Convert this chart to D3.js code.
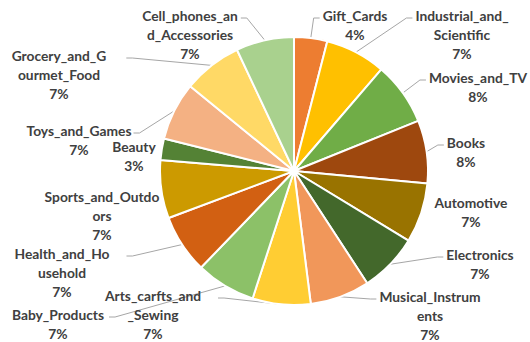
<!DOCTYPE html>
<html>
<head>
<meta charset="utf-8">
<script src="https://cdn.jsdelivr.net/npm/d3@7"></script>
<style>
  body { margin: 0; background: #fff; }
  text { font-family: Lato, "Open Sans", sans-serif; font-weight: bold; }
</style>
</head>
<body>
<div id="chart"></div>
<script>
"use strict";

// Categories, clockwise from 12 o'clock
const categories = ["Gift_Cards", "Industrial_and_Scientific", "Movies_and_TV", "Books", "Automotive",
	"Electronics", "Musical_Instruments", "Arts_carfts_and_Sewing", "Baby_Products", "Health_and_Household",
	"Sports_and_Outdoors", "Beauty", "Toys_and_Games", "Grocery_and_Gourmet_Food", "Cell_phones_and_Accessories"];

// share of each category (percent)
const values = [4.0, 7.3, 7.6, 7.6, 7.2, 7.1, 7.2, 7.0, 7.2, 7.1, 7.0, 2.6, 7.0, 7.1, 7.0];

// wrapped label text, as shown
const labelLines = [
	["Gift_Cards"], ["Industrial_and_", "Scientific"], ["Movies_and_TV"], ["Books"], ["Automotive"],
	["Electronics"], ["Musical_Instrum", "ents"], ["Arts_carfts_and", "_Sewing"], ["Baby_Products"], ["Health_and_Ho", "usehold"],
	["Sports_and_Outdo", "ors"], ["Beauty"], ["Toys_and_Games"], ["Grocery_and_G", "ourmet_Food"], ["Cell_phones_an", "d_Accessories"]];

const colors = ["#ED7D31", "#FFC000", "#70AD47", "#9E480E", "#997300", "#43682B", "#F1975A", "#FFCD33",
	"#8CC168", "#D26012", "#CC9A00", "#548235", "#F4B183", "#FFD966", "#A9D18E"];

// label placement (centre x, first line y) and gap to leader line
const labelLayout = [
	{x: 355, y: 15, pad: 3}, {x: 462, y: 15, pad: 3}, {x: 478, y: 77, pad: 3}, {x: 466, y: 142, pad: 3},
	{x: 471, y: 202, pad: 3}, {x: 480, y: 254, pad: 3}, {x: 430, y: 296, pad: 3}, {x: 153, y: 295, pad: 17},
	{x: 58, y: 314, pad: 5}, {x: 62, y: 253, pad: 17}, {x: 102, y: 196, pad: 3}, {x: 134, y: 146, pad: 3},
	{x: 79, y: 130, pad: 2}, {x: 59, y: 55, pad: 20}, {x: 190, y: 15, pad: 3}];

const width = 530, height = 342;
const cx = 294, cy = 171, radius = 134;
const lineHeight = 19;

const svg = d3.select("#chart").append("svg")
	.attr("width", width)
	.attr("height", height);

const pie = d3.pie().sort(null).value(d => d);
const arcs = pie(values);
const arc = d3.arc().innerRadius(0).outerRadius(radius);
const total = d3.sum(values);

const leaderLayer = svg.append("g");
const pieLayer = svg.append("g").attr("transform", `translate(${cx},${cy})`);
const labelLayer = svg.append("g");

pieLayer.selectAll("path")
	.data(arcs)
	.enter()
	.append("path")
	.attr("d", arc)
	.attr("fill", (d, i) => colors[i])
	.attr("stroke", "#fff")
	.attr("stroke-width", 2)
	.attr("stroke-linejoin", "round");

arcs.forEach((d, i) => {
	const pos = labelLayout[i];
	const g = labelLayer.append("g");
	const lines = labelLines[i].concat([Math.round(values[i] / total * 100) + "%"]);
	let maxW = 0;
	lines.forEach((t, k) => {
		const txt = g.append("text")
			.attr("x", pos.x)
			.attr("y", pos.y + k * lineHeight)
			.attr("text-anchor", "middle")
			.attr("dominant-baseline", "central")
			.attr("font-size", 13.8)
			.attr("fill", "#404040")
			.text(t);
		maxW = Math.max(maxW, txt.node().getComputedTextLength());
	});

	// leader line: from slice edge to the label side
	const mid = (d.startAngle + d.endAngle) / 2;
	const px = cx + radius * Math.sin(mid);
	const py = cy - radius * Math.cos(mid);
	const onRight = pos.x > cx;
	const ax = onRight ? pos.x - maxW / 2 - pos.pad : pos.x + maxW / 2 + pos.pad;
	const ay = pos.y + 3;
	if (Math.hypot(ax - px, ay - py) > 16) {
		const ex = onRight ? ax - 6 : ax + 6;
		leaderLayer.append("path")
			.attr("d", `M${ax},${ay}L${ex},${ay}L${px},${py}`)
			.attr("fill", "none")
			.attr("stroke", "#a6a6a6")
			.attr("stroke-width", 1);
	}
});
</script>
</body>
</html>
